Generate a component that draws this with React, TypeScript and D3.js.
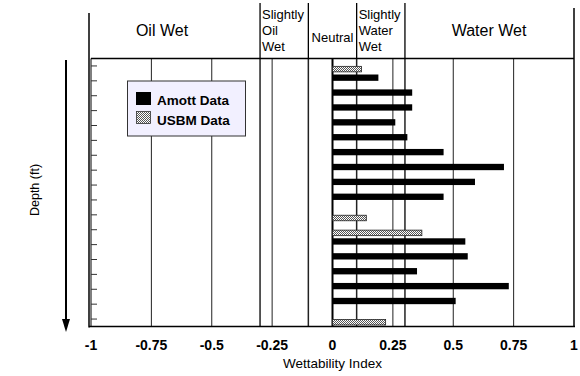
import React from 'react'
import { scaleLinear, scaleBand } from 'd3'

// depth samples, top to bottom
const depths = ['d1', 'd2', 'd3', 'd4', 'd5', 'd6', 'd7', 'd8', 'd9', 'd10', 'd11', 'd12', 'd13', 'd14', 'd15', 'd16', 'd17', 'd18']
const amott = [null, 0.19, 0.33, 0.33, 0.26, 0.31, 0.46, 0.71, 0.59, 0.46, null, null, 0.55, 0.56, 0.35, 0.73, 0.51, null]
const usbm = [0.12, null, null, null, null, null, null, null, null, null, 0.14, 0.37, null, null, null, null, null, 0.22]

const xTicks = [-1, -0.75, -0.5, -0.25, 0, 0.25, 0.5, 0.75, 1]
const gridValues = [-0.75, -0.5, -0.3, -0.25, -0.1, 0, 0.1, 0.25, 0.3, 0.5, 0.75]
const zoneBounds = [-0.3, -0.1, 0.1, 0.3]
const zoneLabels = ['Oil Wet', 'Slightly|Oil|Wet', 'Neutral', 'Slightly|Water|Wet', 'Water Wet']

const font = 'Liberation Sans, Arial, Helvetica, sans-serif'

export default function App() {
  const W = 580, H = 376
  const top = 58.5, bottom = 326.5
  const x = scaleLinear().domain([-1, 1]).range([91, 574])
  const y = scaleBand().domain(depths).range([top, bottom]).paddingInner(0.15).paddingOuter(0.075)
  const sub = scaleBand().domain(['amott', 'usbm']).range([0, y.bandwidth()])

  const fmt = (v) => (v === 0 ? '0' : String(v))

  return (
    <div style={{ position: 'absolute', left: 0, top: 0 }}>
      <svg width={W} height={H} style={{ display: 'block', background: '#fff' }} fontFamily={font}>
        <defs>
          <pattern id="usbmFill" width="2" height="2" patternUnits="userSpaceOnUse">
            <rect width="2" height="2" fill="#fff" />
            <rect width="1" height="1" fill="#555" />
            <rect x="1" y="1" width="1" height="1" fill="#555" />
          </pattern>
        </defs>

        {/* header zone separators */}
        <line x1={89} x2={89} y1={13} y2={bottom + 1} stroke="#000" strokeWidth={1.5} />
        <line x1={574} x2={574} y1={8} y2={bottom} stroke="#000" strokeWidth={1.5} />
        {zoneBounds.map(v => (
          <line key={'z' + v} x1={x(v)} x2={x(v)} y1={3} y2={top} stroke="#000" strokeWidth={1.3} />
        ))}

        {/* grid */}
        {gridValues.map(v => (
          <line key={'g' + v} x1={x(v)} x2={x(v)} y1={top} y2={bottom}
            stroke={v === 0 ? '#000' : '#222'}
            strokeWidth={v === 0 ? 2 : zoneBounds.includes(v) ? 1.5 : 1} />
        ))}

        {/* frame */}
        <line x1={91} x2={574} y1={top} y2={top} stroke="#000" strokeWidth={1.3} />
        <line x1={89} x2={575} y1={bottom} y2={bottom} stroke="#000" strokeWidth={1.5} />
        <line x1={91} x2={91} y1={top} y2={bottom} stroke="#000" strokeWidth={1} />

        {/* depth ticks */}
        {depths.map(d => {
          const cy = y(d) + y.bandwidth() / 2
          return <line key={'t' + d} x1={91} x2={97} y1={cy} y2={cy} stroke="#333" strokeWidth={1} />
        })}

        {/* bars */}
        {depths.map((d, i) => (
          <g key={'b' + d}>
            {amott[i] != null && (
              <rect x={x(0)} y={y(d) + sub('amott')} width={x(amott[i]) - x(0)} height={sub.bandwidth()} fill="#000" />
            )}
            {usbm[i] != null && (
              <rect x={x(0)} y={y(d) + sub('usbm') + 0.4} width={x(usbm[i]) - x(0)} height={sub.bandwidth() - 0.8}
                fill="url(#usbmFill)" stroke="#222" strokeWidth={0.8} />
            )}
          </g>
        ))}

        {/* zone labels */}
        <text x={162} y={36} fontSize={16} textAnchor="middle">{zoneLabels[0]}</text>
        {zoneLabels[1].split('|').map((s, i) => (
          <text key={'so' + i} x={x(-0.3) + 2} y={19 + i * 16} fontSize={13}>{s}</text>
        ))}
        <text x={(x(-0.1) + x(0.1)) / 2} y={42} fontSize={13} textAnchor="middle">{zoneLabels[2]}</text>
        {zoneLabels[3].split('|').map((s, i) => (
          <text key={'sw' + i} x={x(0.1) + 2} y={19 + i * 16} fontSize={13}>{s}</text>
        ))}
        <text x={489} y={36} fontSize={16} textAnchor="middle">{zoneLabels[4]}</text>

        {/* x tick labels */}
        {xTicks.map(v => (
          <text key={'xl' + v} x={x(v)} y={350} fontSize={14} fontWeight="bold" textAnchor="middle">{fmt(v)}</text>
        ))}
        <text x={x(0)} y={368} fontSize={13.5} textAnchor="middle">Wettability Index</text>

        {/* depth label + arrow */}
        <text transform="translate(39,190) rotate(-90)" fontSize={12.5} textAnchor="middle">Depth (ft)</text>
        <line x1={66} x2={66} y1={60} y2={322} stroke="#000" strokeWidth={2} />
        <path d="M62,319 L70,319 L66,332 Z" fill="#000" />

        {/* legend */}
        <rect x={127.5} y={81} width={118} height={55} fill="#f2f0ff" stroke="#333" strokeWidth={1} />
        <rect x={136} y={92} width={15} height={13} fill="#000" />
        <text x={157} y={105} fontSize={13.5} fontWeight="bold">Amott Data</text>
        <rect x={136.5} y={111.5} width={14} height={12} fill="url(#usbmFill)" stroke="#333" strokeWidth={0.8} />
        <text x={157} y={125} fontSize={13.5} fontWeight="bold">USBM Data</text>
      </svg>
    </div>
  )
}
